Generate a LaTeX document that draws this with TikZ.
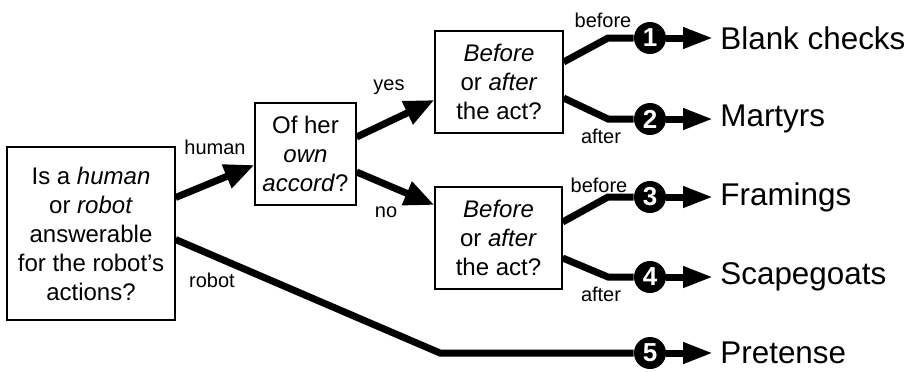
\documentclass[tikz,border=0pt]{standalone}
\usepackage{fontspec}
\setmainfont{Liberation Sans}
\usetikzlibrary{arrows.meta}

\begin{document}
\begin{tikzpicture}[x=0.5pt,y=-0.5pt,
	question/.style={draw,line width=0.6pt,align=center,inner sep=0pt,font=\fontsize{12}{14.5}\selectfont},
	branch/.style={line width=3.5pt},
	choice/.style={branch,-{Triangle[length=15pt,width=12pt]}},
	outcome/.style={branch,-{Triangle[length=15pt,width=10pt]}},
	lbl/.style={font=\fontsize{10}{12}\selectfont},
	numdot/.style={circle,fill=black,text=white,inner sep=0pt,minimum size=16pt,font=\fontsize{13}{13}\selectfont\bfseries},
	result/.style={anchor=west,inner sep=3.5pt,font=\fontsize{15.7}{18}\selectfont}]
	%\draw[help lines] (0,0) grid[step=50] (913,371);
	\useasboundingbox (0,0) rectangle (913,371);
	% questions
	\node[question,minimum width=84pt,minimum height=86.5pt] (who) at (91,233.5) {Is a \textit{human}\\or \textit{robot}\\answerable\\for the robot's\\actions?};
	\node[question,minimum width=50.5pt,minimum height=51pt] (own) at (305.5,154) {Of her\\\textit{own}\\\textit{accord}?};
	\node[question,minimum width=64pt,minimum height=51pt] (actA) at (499,82) {\textit{Before}\\or \textit{after}\\the act?};
	\node[question,minimum width=63.5pt,minimum height=51pt] (actB) at (498.5,238) {\textit{Before}\\or \textit{after}\\the act?};
	% numbered outcomes
	\node[numdot] (n1) at (650,38) {1};
	\node[numdot] (n2) at (650,119) {2};
	\node[numdot] (n3) at (650,197) {3};
	\node[numdot] (n4) at (650,277) {4};
	\node[numdot] (n5) at (650,353) {5};
	\node[result] (r1) at (713,38) {Blank checks};
	\node[result] (r2) at (713,119) {Martyrs};
	\node[result] (r3) at (713,197) {Framings};
	\node[result] (r4) at (713,277) {Scapegoats};
	\node[result] (r5) at (713,353) {Pretense};
	% bends
	\coordinate (b1) at (608,38);
	\coordinate (b2) at (608,119);
	\coordinate (b3) at (608,197);
	\coordinate (b4) at (608,277);
	\coordinate (b5) at (440,353);
	% connectors
	\draw[choice] ([yshift=18pt]who.east) -- ([yshift=-5.5pt]own.west);
	\draw[choice] ([yshift=8.5pt]own.east) -- ([yshift=-9pt]actA.west);
	\draw[choice] ([yshift=-9pt]own.east) -- ([yshift=16.5pt]actB.west);
	\draw[branch] ([yshift=10pt]actA.east) -- (b1) -- (n1);
	\draw[branch] ([yshift=-8pt]actA.east) -- (b2) -- (n2);
	\draw[branch] ([yshift=8pt]actB.east) -- (b3) -- (n3);
	\draw[branch] ([yshift=-10pt]actB.east) -- (b4) -- (n4);
	\draw[branch] ([yshift=-3pt]who.east) -- (b5) -- (n5);
	\foreach \i in {1,...,5}
		\draw[outcome] (n\i) -- (r\i);
	% labels
	\node[lbl] (lhuman) at (215,147) {human};
	\node[lbl] (lrobot) at (212,280) {robot};
	\node[lbl] (lyes) at (389,87) {yes};
	\node[lbl] (lno) at (386,212) {no};
	\node[lbl] (lbefA) at (603,20) {before};
	\node[lbl] (laftA) at (601,136) {after};
	\node[lbl] (lbefB) at (599,185) {before};
	\node[lbl] (laftB) at (601,294) {after};
\end{tikzpicture}
\end{document}
